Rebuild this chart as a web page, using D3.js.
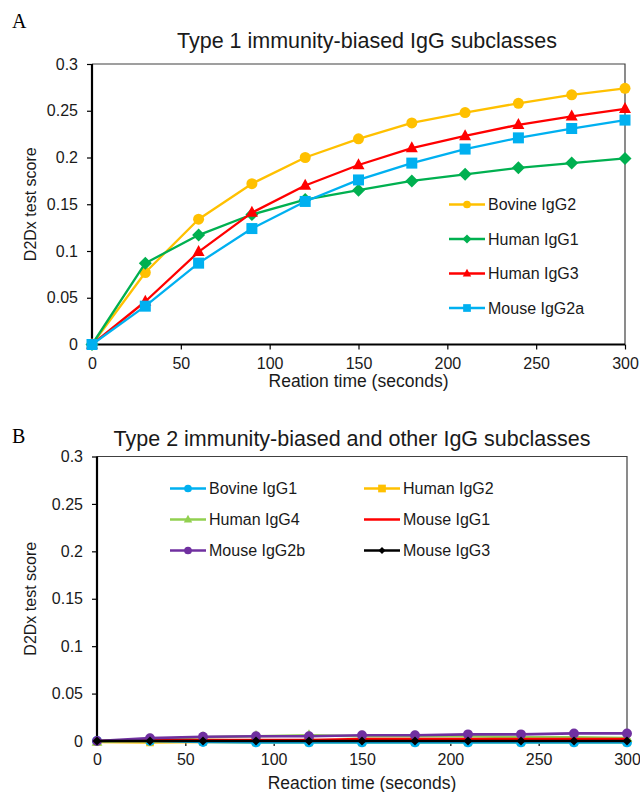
<!DOCTYPE html>
<html>
<head>
<meta charset="utf-8">
<script src="https://cdn.jsdelivr.net/npm/d3@7"></script>
<style>
  html, body { margin: 0; padding: 0; background: #fff; }
  svg { display: block; font-family: "Liberation Sans", Arial, sans-serif; }
</style>
</head>
<body>
<svg id="chart" width="640" height="792"></svg>
<script>
// ---------- DATA ----------
const times = [0, 30, 60, 90, 120, 150, 180, 210, 240, 270, 300];
const xTicks = [0, 50, 100, 150, 200, 250, 300];
const yTicks = [0, 0.05, 0.1, 0.15, 0.2, 0.25, 0.3];
const yTickLabels = ["0", "0.05", "0.1", "0.15", "0.2", "0.25", "0.3"];

// Panel A
const titleA = "Type 1 immunity-biased IgG subclasses";
const xLabelA = "Reation time (seconds)";
const namesA = ["Bovine IgG2", "Human IgG1", "Human IgG3", "Mouse IgG2a"];
const bovineIgG2 = [0, 0.077, 0.134, 0.172, 0.200, 0.220, 0.237, 0.248, 0.258, 0.267, 0.274];
const humanIgG1  = [0, 0.087, 0.117, 0.139, 0.155, 0.165, 0.175, 0.182, 0.189, 0.194, 0.199];
const humanIgG3  = [0, 0.046, 0.099, 0.141, 0.170, 0.192, 0.210, 0.223, 0.235, 0.244, 0.252];
const mouseIgG2a = [0, 0.041, 0.087, 0.124, 0.153, 0.176, 0.194, 0.209, 0.221, 0.231, 0.240];

// Panel B
const titleB = "Type 2 immunity-biased and other IgG subclasses";
const xLabelB = "Reaction time (seconds)";
const namesB = ["Bovine IgG1", "Human IgG2", "Human IgG4", "Mouse IgG1", "Mouse IgG2b", "Mouse IgG3"];
const bovineIgG1 = [0, 0, -0.001, -0.0015, -0.0015, -0.0015, -0.0015, -0.0015, -0.0015, -0.0015, -0.0015];
const humanIgG2  = [-0.001, -0.0015, -0.001, -0.0015, -0.0015, -0.0015, -0.0015, -0.0015, -0.0015, -0.0015, -0.0015];
const humanIgG4  = [-0.001, 0.002, 0.004, 0.005, 0.006, 0.005, 0.005, 0.005, 0.004, 0.004, 0.003];
const mouseIgG1  = [0, 0.001, 0.001, 0.001, 0.001, 0.002, 0.002, 0.002, 0.002, 0.002, 0.002];
const mouseIgG2b = [0, 0.003, 0.0045, 0.005, 0.005, 0.006, 0.006, 0.007, 0.007, 0.008, 0.008];
const mouseIgG3  = [0, 0, 0, 0, 0, 0, 0, 0, 0, 0, 0];

// ---------- STYLE ----------
const seriesA = [
  {name: namesA[0], values: bovineIgG2, color: "#FFC000", marker: "circle", z: 0, ms: 1},
  {name: namesA[1], values: humanIgG1,  color: "#00B050", marker: "diamond", z: 1, ms: 1},
  {name: namesA[2], values: humanIgG3,  color: "#FF0000", marker: "triangle", z: 2, ms: 1},
  {name: namesA[3], values: mouseIgG2a, color: "#00B0F0", marker: "square", z: 3, ms: 1}
];
const seriesB = [
  {name: namesB[0], values: bovineIgG1, color: "#00B0F0", marker: "circle", z: 1, ms: 0.9},
  {name: namesB[1], values: humanIgG2,  color: "#FFC000", marker: "square", z: 0, ms: 0.7},
  {name: namesB[2], values: humanIgG4,  color: "#92D050", marker: "triangle", z: 2, ms: 0.9},
  {name: namesB[3], values: mouseIgG1,  color: "#FF0000", marker: "none", z: 3, ms: 0.9},
  {name: namesB[4], values: mouseIgG2b, color: "#7030A0", marker: "circle", z: 4, ms: 0.9},
  {name: namesB[5], values: mouseIgG3,  color: "#000000", marker: "diamondSmall", z: 5, ms: 0.9}
];

const svg = d3.select("#chart");

function drawMarker(g, type, cx, cy, color, scale) {
  const k = scale || 1;
  if (type === "circle") {
    g.append("circle").attr("cx", cx).attr("cy", cy).attr("r", 5.5 * k).attr("fill", color);
  } else if (type === "square") {
    const s = 11 * k;
    g.append("rect").attr("x", cx - s / 2).attr("y", cy - s / 2).attr("width", s).attr("height", s).attr("fill", color);
  } else if (type === "triangle") {
    const h = 11 * k, w = 12 * k;
    g.append("path").attr("d", `M${cx},${cy - h * 0.62}L${cx + w / 2},${cy + h * 0.38}L${cx - w / 2},${cy + h * 0.38}Z`).attr("fill", color);
  } else if (type === "diamond") {
    const r = 6.5 * k;
    g.append("path").attr("d", `M${cx},${cy - r}L${cx + r},${cy}L${cx},${cy + r}L${cx - r},${cy}Z`).attr("fill", color);
  } else if (type === "diamondSmall") {
    const r = 5 * k;
    g.append("path").attr("d", `M${cx},${cy - r}L${cx + r},${cy}L${cx},${cy + r}L${cx - r},${cy}Z`).attr("fill", color);
  }
}

function drawPanel(cfg) {
  const x = d3.scaleLinear().domain([0, 300]).range([cfg.left, cfg.right]);
  const y = d3.scaleLinear().domain([0, 0.3]).range([cfg.bottom, cfg.top]);
  const g = svg.append("g");

  // Panel letter
  g.append("text").attr("x", 12).attr("y", cfg.letterY)
    .attr("font-family", "'Liberation Serif', 'Times New Roman', serif")
    .attr("font-size", 20).attr("fill", "#000").text(cfg.letter);

  // Title
  g.append("text").attr("x", cfg.titleX).attr("y", cfg.titleY)
    .attr("text-anchor", "middle").attr("font-size", 21.5).attr("fill", "#1a1a1a").text(cfg.title);

  // Frame top/right
  g.append("path")
    .attr("d", `M${cfg.left},${cfg.top}H${cfg.right}V${cfg.bottom}`)
    .attr("fill", "none").attr("stroke", "#404040").attr("stroke-width", 1.2);

  // Y axis
  const yAxis = d3.axisLeft(y).tickValues(yTicks).tickFormat((d, i) => yTickLabels[i]).tickSize(5).tickPadding(9);
  const ya = g.append("g").attr("transform", `translate(${cfg.left},0)`).call(yAxis);
  ya.select(".domain").attr("stroke", "#000").attr("stroke-width", 2.2).attr("d", `M0,${cfg.bottom + 1}V${cfg.top}`);
  ya.selectAll(".tick line").attr("stroke", "#000").attr("stroke-width", 1.2);
  ya.selectAll(".tick text").attr("font-size", 16).attr("fill", "#1a1a1a").attr("font-family", "'Liberation Sans', Arial, sans-serif");

  // X axis
  const xAxis = d3.axisBottom(x).tickValues(xTicks).tickFormat(d3.format("d")).tickSize(5).tickPadding(8);
  const xa = g.append("g").attr("transform", `translate(0,${cfg.bottom})`).call(xAxis);
  xa.select(".domain").attr("stroke", "#000").attr("stroke-width", 2.2).attr("d", `M${cfg.left - 1},0H${cfg.right}`);
  xa.selectAll(".tick line").attr("stroke", "#000").attr("stroke-width", 1.2);
  xa.selectAll(".tick text").attr("font-size", 16).attr("fill", "#1a1a1a").attr("font-family", "'Liberation Sans', Arial, sans-serif");

  // Axis titles
  g.append("text").attr("x", (cfg.left + cfg.right) / 2).attr("y", cfg.xLabelY)
    .attr("text-anchor", "middle").attr("font-size", 17.5).attr("fill", "#1a1a1a").text(cfg.xLabel);
  g.append("text")
    .attr("transform", `translate(${cfg.yLabelX},${(cfg.top + cfg.bottom) / 2}) rotate(-90)`)
    .attr("text-anchor", "middle").attr("font-size", 16).attr("fill", "#1a1a1a").text("D2Dx test score");

  // Series (drawn in z order)
  const line = d3.line().x((d, i) => x(times[i])).y(d => y(d));
  cfg.series.slice().sort((a, b) => a.z - b.z).forEach(s => {
    const sg = g.append("g");
    sg.append("path").attr("d", line(s.values)).attr("fill", "none")
      .attr("stroke", s.color).attr("stroke-width", cfg.lineWidth).attr("stroke-linejoin", "round");
    s.values.forEach((v, i) => drawMarker(sg, s.marker, x(times[i]), y(v), s.color, s.ms));
  });

  // Legend
  const lg = g.append("g");
  cfg.series.forEach((s, i) => {
    const col = i % cfg.legendCols, row = Math.floor(i / cfg.legendCols);
    const lx = cfg.legendX + col * cfg.legendColW;
    const ly = cfg.legendY + row * cfg.legendRowH;
    lg.append("line").attr("x1", lx).attr("x2", lx + 36).attr("y1", ly).attr("y2", ly)
      .attr("stroke", s.color).attr("stroke-width", 2.5);
    drawMarker(lg, s.marker, lx + 18, ly, s.color, 0.7);
    lg.append("text").attr("x", lx + 39).attr("y", ly + 5.5)
      .attr("font-size", 16).attr("fill", "#1a1a1a").text(s.name);
  });
}

drawPanel({
  letter: "A", letterY: 28,
  title: titleA, titleX: 367, titleY: 48,
  left: 92, right: 625, top: 64, bottom: 344.5,
  xLabel: xLabelA, xLabelY: 387, yLabelX: 36,
  series: seriesA, lineWidth: 2.3,
  legendX: 449, legendY: 204.5, legendCols: 1, legendColW: 0, legendRowH: 34.5
});

drawPanel({
  letter: "B", letterY: 443,
  title: titleB, titleX: 352, titleY: 446,
  left: 97, right: 627, top: 456.5, bottom: 741,
  xLabel: xLabelB, xLabelY: 789, yLabelX: 36,
  series: seriesB, lineWidth: 2.6,
  legendX: 170, legendY: 488.5, legendCols: 2, legendColW: 194, legendRowH: 31
});
</script>
</body>
</html>
